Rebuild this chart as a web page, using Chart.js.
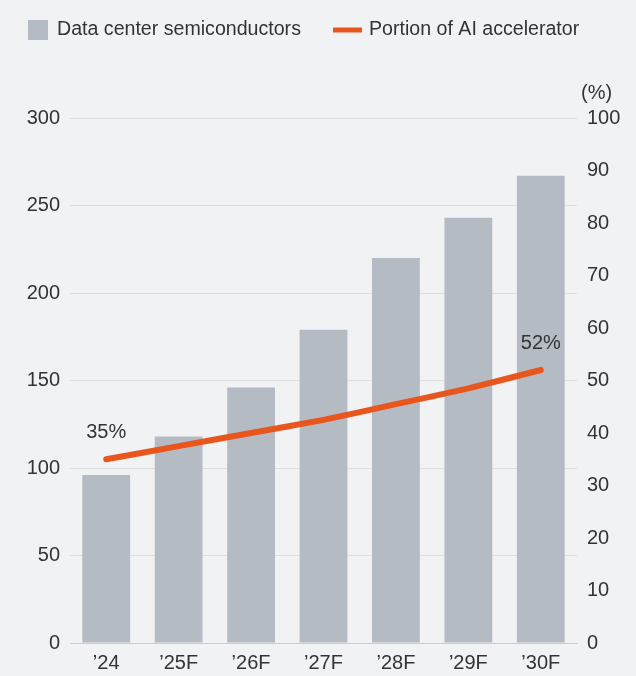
<!DOCTYPE html>
<html>
<head>
<meta charset="utf-8">
<style>
  html, body { margin: 0; padding: 0; background: #f1f2f4; }
  canvas { display: block; }
</style>
<script src="https://cdn.jsdelivr.net/npm/chart.js@4/dist/chart.umd.min.js"></script>
</head>
<body>
<canvas id="dc-chart" width="636" height="676"></canvas>
<script>
const years = ['\u201924', '\u201925F', '\u201926F', '\u201927F', '\u201928F', '\u201929F', '\u201930F'];
const dcSemis = [96, 118, 146, 179, 220, 243, 267];
const aiShare = [35, 37.5, 40, 42.5, 45.5, 48.5, 52];

const FONT = "'Liberation Sans', Arial, sans-serif";
const TEXT = '#333333';
const BAR_COLOR = '#b5bbc3';
const LINE_COLOR = '#e8561e';

// legend, unit label and end-point labels
const extras = {
    id: 'extras',
    afterDatasetsDraw(chart) {
        const ctx = chart.ctx;
        ctx.save();
        ctx.font = '19.6px ' + FONT;
        ctx.fillStyle = TEXT;
        ctx.textBaseline = 'middle';

        // legend
        ctx.fillStyle = BAR_COLOR;
        ctx.fillRect(28, 20, 20, 20);
        ctx.fillStyle = TEXT;
        ctx.textAlign = 'left';
        ctx.fillText('Data center semiconductors', 57, 30);
        ctx.strokeStyle = LINE_COLOR;
        ctx.lineWidth = 5;
        ctx.beginPath();
        ctx.moveTo(333, 30);
        ctx.lineTo(362, 30);
        ctx.stroke();
        ctx.fillText('Portion of AI accelerator', 369, 30);

        // unit of right axis
        ctx.font = '20px ' + FONT;
        ctx.fillText('(%)', 581, 93);

        // first and last share labels
        const meta = chart.getDatasetMeta(1);
        ctx.textAlign = 'center';
        [0, aiShare.length - 1].forEach(i => {
            const pt = meta.data[i];
            ctx.fillText(aiShare[i] + '%', pt.x, pt.y - 27);
        });
        ctx.restore();
    }
};

new Chart(document.getElementById('dc-chart').getContext('2d'), {
    type: 'bar',
    data: {
        labels: years,
        datasets: [{
            type: 'bar',
            label: 'Data center semiconductors',
            data: dcSemis,
            backgroundColor: BAR_COLOR,
            categoryPercentage: 1,
            barPercentage: 0.66,
            yAxisID: 'y',
            order: 1
        }, {
            type: 'line',
            label: 'Portion of AI accelerator',
            data: aiShare,
            borderColor: LINE_COLOR,
            borderWidth: 6,
            borderCapStyle: 'round',
            pointRadius: 0,
            tension: 0.15,
            yAxisID: 'y2',
            order: 0
        }]
    },
    options: {
        responsive: false,
        animation: false,
        devicePixelRatio: 1,
        layout: { padding: { top: 118, left: 0, right: 0, bottom: 0 } },
        plugins: {
            legend: { display: false },
            tooltip: { enabled: false }
        },
        scales: {
            x: {
                grid: { display: false, drawTicks: false },
                border: { color: '#c9ccd0' },
                ticks: { color: TEXT, font: { family: FONT, size: 20 }, padding: 8 },
                afterFit(scale) { scale.height = 33; }
            },
            y: {
                position: 'left',
                min: 0,
                max: 300,
                ticks: { stepSize: 50, color: TEXT, font: { family: FONT, size: 20 }, padding: 10 },
                grid: { color: '#dcdee1', drawTicks: false },
                border: { display: false },
                afterFit(scale) { scale.width = 70; }
            },
            y2: {
                position: 'right',
                min: 0,
                max: 100,
                ticks: { stepSize: 10, color: TEXT, font: { family: FONT, size: 20 }, padding: 10 },
                grid: { display: false, drawTicks: false },
                border: { display: false },
                afterFit(scale) { scale.width = 59; }
            }
        }
    },
    plugins: [extras]
});
</script>
</body>
</html>
